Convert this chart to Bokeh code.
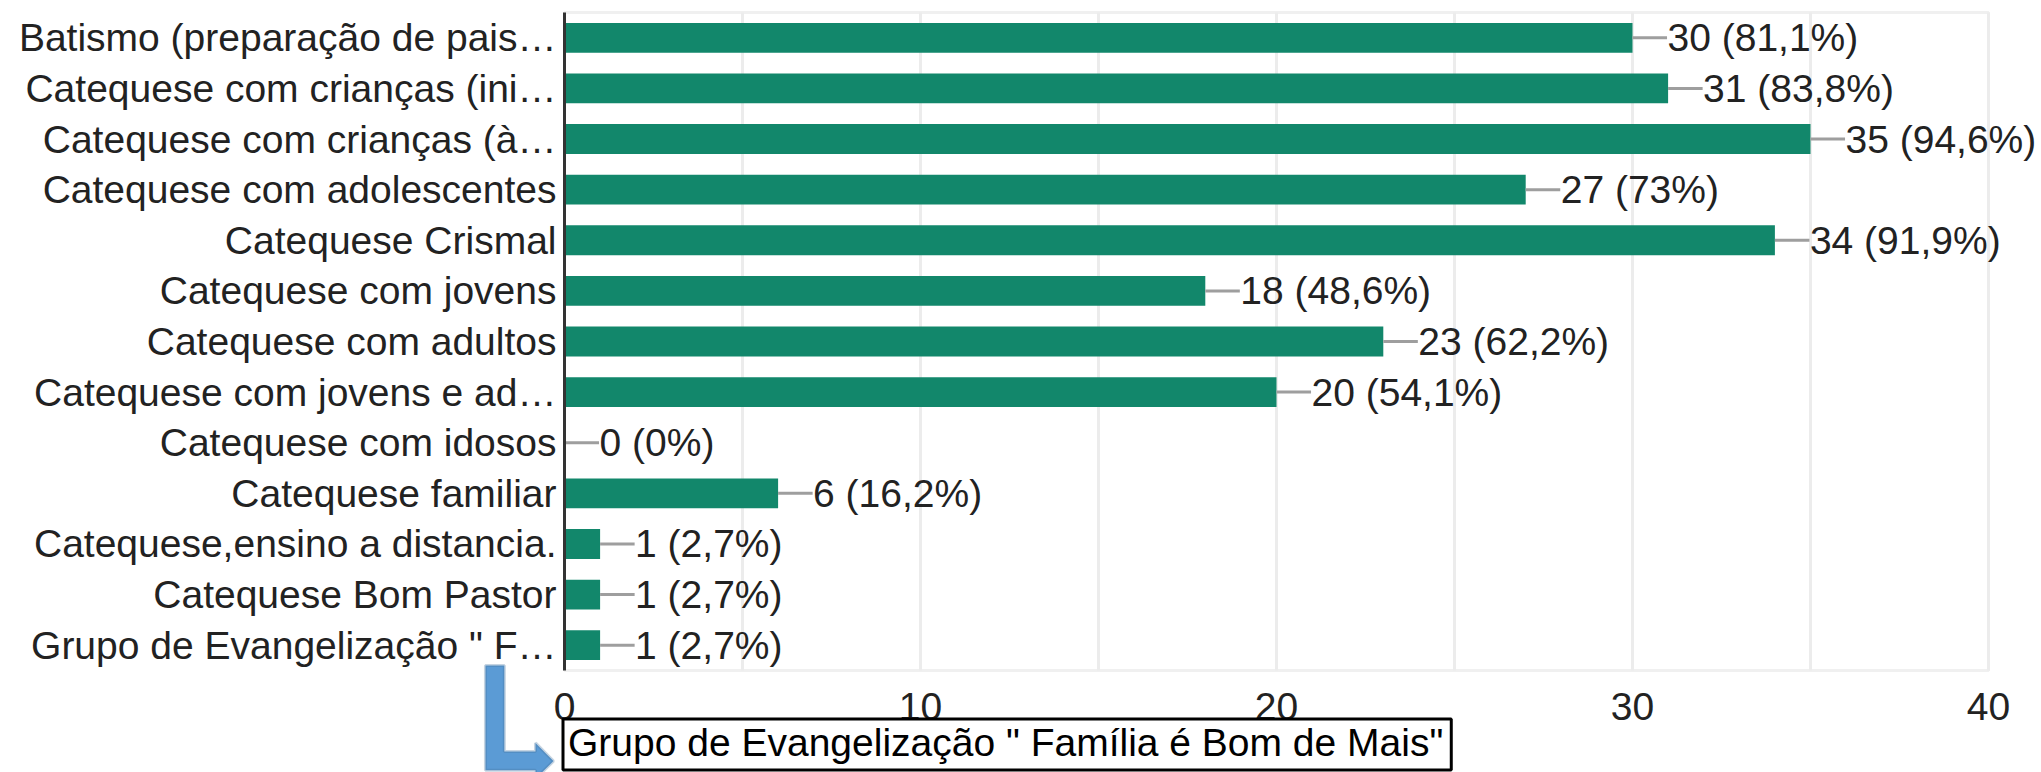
from bokeh.plotting import figure
from bokeh.models import (ColumnDataSource, Range1d, FixedTicker, LabelSet, Label,
                          PolyAnnotation, LinearAxis)
from bokeh.core.properties import value
from bokeh.embed import file_html
from bokeh.resources import INLINE

# ---- data ----
categories = [
    "Batismo (preparação de pais…",
    "Catequese com crianças (ini…",
    "Catequese com crianças (à…",
    "Catequese com adolescentes",
    "Catequese Crismal",
    "Catequese com jovens",
    "Catequese com adultos",
    "Catequese com jovens e ad…",
    "Catequese com idosos",
    "Catequese familiar",
    "Catequese,ensino a distancia.",
    "Catequese Bom Pastor",
    "Grupo de Evangelização \" F…",
]
counts = [30, 31, 35, 27, 34, 18, 23, 20, 0, 6, 1, 1, 1]
percents = ["81,1%", "83,8%", "94,6%", "73%", "91,9%", "48,6%", "62,2%",
            "54,1%", "0%", "16,2%", "2,7%", "2,7%", "2,7%"]
x_ticks = [0, 10, 20, 30, 40]
x_grid = [5, 10, 15, 20, 25, 30, 35, 40]
x_max = 40
callout_text = "Grupo de Evangelização \" Família é Bom de Mais\""

# ---- layout constants (pixels) ----
W, H = 2041, 772
X0_PX, PX_X = 564, 35.6      # x=0 position, pixels per unit
Y0_PX, PX_Y = 670, 50.615    # bottom of category area, pixels per category

FONT = "Liberation Sans"
FS = "39px"
TXT = "#222222"

n = len(categories)
ypos = [n - 0.5 - i for i in range(n)]
labels = [f"{c} ({p})" for c, p in zip(counts, percents)]
conn = 0.97  # connector length in data units
src = ColumnDataSource(dict(y=ypos, v=counts,
                            v_end=[c + conn for c in counts], lbl=labels))

p = figure(width=W, height=H,
           x_range=Range1d(-X0_PX / PX_X, (W - X0_PX) / PX_X),
           y_range=Range1d(-(H - Y0_PX) / PX_Y, n + (Y0_PX - n * PX_Y) / PX_Y),
           x_axis_location=None, y_axis_location=None,
           output_backend="svg", toolbar_location=None,
           min_border_left=0, min_border_right=0,
           min_border_top=0, min_border_bottom=0)
for g in p.grid:
    g.visible = False
p.outline_line_color = None
p.background_fill_color = "white"
p.border_fill_color = "white"

# plot-area frame and grid lines
p.quad(left=[0], right=[x_max], bottom=[0], top=[n], fill_color=None,
       line_color="#f0f0f0", line_width=3)
p.segment(x0=x_grid, y0=[0] * len(x_grid), x1=x_grid, y1=[n] * len(x_grid),
          line_color="#ececec", line_width=3)

# bars, connectors, value labels
p.hbar(y="y", left=0, right="v", height=0.59, fill_color="#12876b",
       line_color=None, source=src)
p.segment(x0="v", y0="y", x1="v_end", y1="y", line_color="#9e9e9e",
          line_width=3, source=src)
p.add_layout(LabelSet(x="v", y="y", text="lbl", x_offset=35, source=src,
                      text_baseline="middle", text_align="left",
                      text_font=value(FONT), text_font_size=value(FS),
                      text_color=TXT))

# axes fixed at x=0 / y=0
yaxis = LinearAxis(fixed_location=0, bounds=(0, n),
                   ticker=FixedTicker(ticks=ypos),
                   major_label_overrides={y: c for y, c in zip(ypos, categories)})
yaxis.axis_line_color = "#333333"
yaxis.axis_line_width = 3
yaxis.major_tick_line_color = None
yaxis.minor_tick_line_color = None
yaxis.major_tick_out = 0
yaxis.major_label_standoff = 8
yaxis.major_label_text_font = FONT
yaxis.major_label_text_font_size = FS
yaxis.major_label_text_color = TXT
p.add_layout(yaxis, "left")

xaxis = LinearAxis(fixed_location=0, ticker=FixedTicker(ticks=x_ticks))
xaxis.axis_line_color = None
xaxis.major_tick_line_color = None
xaxis.minor_tick_line_color = None
xaxis.major_tick_out = 0
xaxis.major_label_standoff = 22
xaxis.major_label_text_font = FONT
xaxis.major_label_text_font_size = FS
xaxis.major_label_text_color = TXT
p.add_layout(xaxis, "below")

# callout arrow
arrow = PolyAnnotation(
    xs=[-2.22, -1.69, -1.69, -0.815, -0.815, -0.31, -0.815, -0.815, -2.22],
    ys=[0.10, 0.10, -1.60, -1.60, -1.43, -1.79, -2.14, -1.97, -1.97],
    xs_units="data", ys_units="data",
    fill_color="#5b9bd5", fill_alpha=1.0,
    line_color="#41719c", line_width=3)
p.add_layout(arrow)

callout = Label(x=(562.5 - X0_PX) / PX_X, y=-(718.5 - Y0_PX) / PX_Y,
                text=callout_text,
                text_align="left", text_baseline="top",
                text_font=FONT, text_font_size=FS, text_color="#000000",
                background_fill_color="white", background_fill_alpha=1.0,
                border_line_color="black", border_line_width=3,
                padding=dict(left=5, right=8, top=2, bottom=6))
p.add_layout(callout)

open("out.html", "w").write(file_html(p, INLINE))
